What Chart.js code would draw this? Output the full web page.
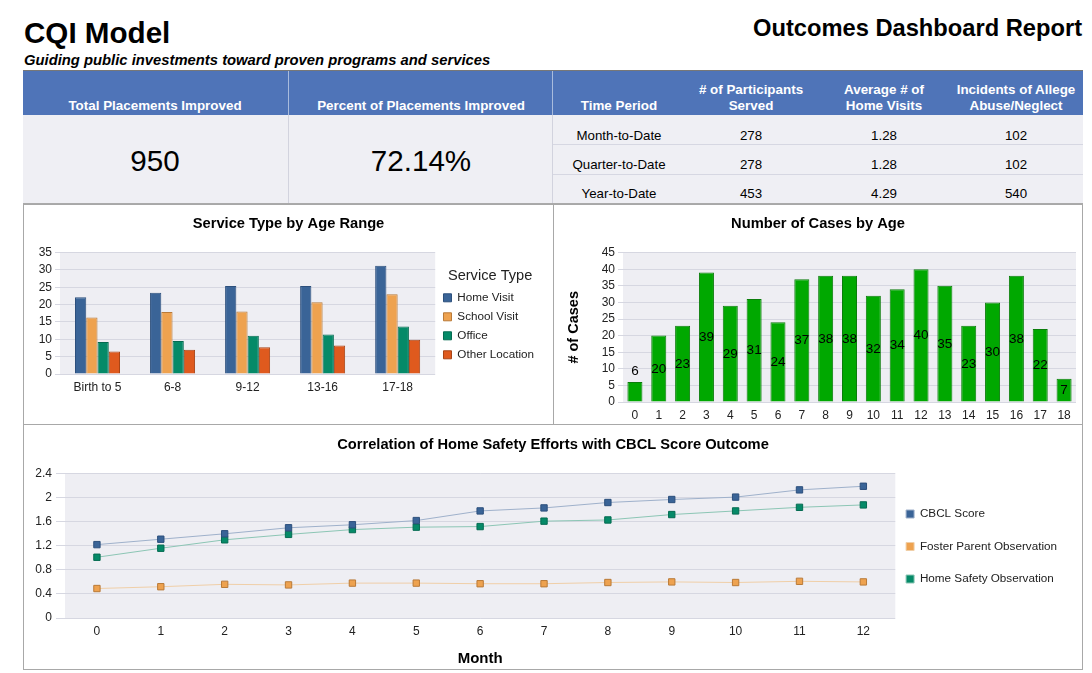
<!DOCTYPE html>
<html>
<head>
<meta charset="utf-8">
<title>Outcomes Dashboard Report</title>
<script src="https://cdn.jsdelivr.net/npm/chart.js@4/dist/chart.umd.min.js"></script>
<style>
html, body { margin: 0; padding: 0; background: #fff; }
body { width: 1092px; height: 673px; position: relative; overflow: hidden; font-family: "Liberation Sans", Arial, sans-serif; color: #000; }
.abs { position: absolute; }
#cqi { left: 24px; top: 16px; font-size: 29.6px; font-weight: bold; line-height: 34px; }
#sub { left: 24px; top: 52px; font-size: 14.8px; font-weight: bold; font-style: italic; line-height: 17px; }
#report { left: 753px; top: 14px; font-size: 23.7px; font-weight: bold; line-height: 28px; white-space: nowrap; }
#band { left: 23px; top: 70px; width: 1060px; height: 134px; background: #efeff4; border-top: 1px solid #777; border-bottom: 1px solid #aaa; box-sizing: border-box; }
#head { left: 23px; top: 71px; width: 1060px; height: 44px; background: #4f74b8; }
.th { position: absolute; color: #fff; font-weight: bold; font-size: 13.4px; line-height: 16px; text-align: center; transform: translateX(-50%); white-space: nowrap; }
.td { position: absolute; font-size: 13.3px; line-height: 16px; transform: translate(-50%, -50%); white-space: nowrap; }
.big { position: absolute; font-size: 29.6px; line-height: 34px; transform: translate(-50%, -50%); }
.vline { position: absolute; width: 1px; background: #d2d3de; }
.hline { position: absolute; height: 1px; background: #d6d7e2; }
.panel { position: absolute; box-sizing: border-box; border: 1px solid #a8a8a8; background: #fff; }
canvas { position: absolute; }
</style>
</head>
<body>
<div id="cqi" class="abs">CQI Model</div>
<div id="sub" class="abs">Guiding public investments toward proven programs and services</div>
<div id="report" class="abs">Outcomes Dashboard Report</div>
<div id="band" class="abs"></div>
<div id="head" class="abs"></div>
<div id="cells"></div>

<div class="panel" style="left:23px;top:204px;width:531px;height:221px"></div>
<div class="panel" style="left:553px;top:204px;width:530px;height:221px"></div>
<div class="panel" style="left:23px;top:424px;width:1060px;height:246px"></div>

<canvas id="serviceChart" width="529" height="219" style="left:24px;top:205px"></canvas>
<canvas id="casesChart" width="528" height="219" style="left:554px;top:205px"></canvas>
<canvas id="safetyChart" width="1058" height="243" style="left:24px;top:426px"></canvas>

<script>
// summary table
const summaryHeads = ["Total Placements Improved", "Percent of Placements Improved"];
const summaryValues = ["950", "72.14%"];
const tableHeads = ["Time Period", "# of Participants<br>Served", "Average # of<br>Home Visits", "Incidents of Allege<br>Abuse/Neglect"];
const periods = ["Month-to-Date", "Quarter-to-Date", "Year-to-Date"];
const participants = ["278", "278", "453"];
const homeVisits = ["1.28", "1.28", "4.29"];
const incidents = ["102", "102", "540"];

// service type by age range
const ageRanges = ["Birth to 5", "6-8", "9-12", "13-16", "17-18"];
const homeVisit = [22.1, 23.4, 25.4, 25.4, 31.2];
const schoolVisit = [16.3, 17.9, 18, 20.7, 23];
const office = [9.2, 9.5, 11, 11.4, 13.7];
const otherLocation = [6.5, 7, 7.7, 8.2, 9.9];

// cases by age
const ages = ["0", "1", "2", "3", "4", "5", "6", "7", "8", "9", "10", "11", "12", "13", "14", "15", "16", "17", "18"];
const cases = [6, 20, 23, 39, 29, 31, 24, 37, 38, 38, 32, 34, 40, 35, 23, 30, 38, 22, 7];

// home safety vs CBCL
const months = ["0", "1", "2", "3", "4", "5", "6", "7", "8", "9", "10", "11", "12"];
const cbclScore = [1.22, 1.31, 1.40, 1.50, 1.55, 1.62, 1.78, 1.83, 1.92, 1.97, 2.01, 2.13, 2.19];
const fosterObs = [0.49, 0.52, 0.56, 0.55, 0.58, 0.58, 0.57, 0.57, 0.59, 0.60, 0.59, 0.61, 0.60];
const safetyObs = [1.01, 1.16, 1.30, 1.39, 1.47, 1.51, 1.52, 1.61, 1.63, 1.72, 1.78, 1.84, 1.88];
const safetyTicks = ["0", "0.4", "0.8", "1.2", "1.6", "2", "2.4"];

const cells = document.getElementById("cells");
function add(cls, html, style) {
    const d = document.createElement("div");
    d.className = cls;
    d.innerHTML = html;
    d.style.cssText = style;
    cells.appendChild(d);
}

const summaryX = [155, 421];
const tableX = [619, 751, 884, 1016];
const rowY = [135.5, 164.5, 193.5];

summaryHeads.forEach((t, i) => add("th", t, "left:" + summaryX[i] + "px;top:98px"));
summaryValues.forEach((t, i) => add("big", t, "left:" + summaryX[i] + "px;top:161px"));
tableHeads.forEach((t, i) => add("th", t, "left:" + tableX[i] + "px;bottom:" + (673 - 114) + "px"));
periods.forEach((t, r) => {
    add("td", t, "left:" + tableX[0] + "px;top:" + rowY[r] + "px");
    add("td", participants[r], "left:" + tableX[1] + "px;top:" + rowY[r] + "px");
    add("td", homeVisits[r], "left:" + tableX[2] + "px;top:" + rowY[r] + "px");
    add("td", incidents[r], "left:" + tableX[3] + "px;top:" + rowY[r] + "px");
});
add("vline", "", "left:288px;top:71px;height:44px;background:#a9bcdd");
add("vline", "", "left:552px;top:71px;height:44px;background:#a9bcdd");
add("vline", "", "left:288px;top:115px;height:88px");
add("vline", "", "left:552px;top:115px;height:88px");
add("hline", "", "left:553px;top:144px;width:530px");
add("hline", "", "left:553px;top:174px;width:530px");

const fontName = "'Liberation Sans', Arial, sans-serif";
const gridColor = "#d6d7e1";

Chart.defaults.font.family = fontName;
Chart.defaults.animation = false;
Chart.defaults.responsive = false;
Chart.defaults.devicePixelRatio = 1;

const plotBackground = {
    id: "plotBackground",
    beforeDraw(chart) {
        const a = chart.chartArea;
        chart.ctx.save();
        chart.ctx.fillStyle = "#eeeef3";
        chart.ctx.fillRect(a.left, a.top, a.width, a.height);
        chart.ctx.restore();
    }
};

// layout padding pushes the title off centre and the legend sits too far out,
// so move both after the chart area is settled
const nudgeBoxes = {
    id: "nudgeBoxes",
    afterLayout(chart, args, opts) {
        const t = chart.titleBlock;
        const half = (chart.options.layout.padding.right || 0) / 2;
        t.left += half;
        t.right += half;
        const l = chart.legend;
        if (l && opts.legendX !== undefined) {
            l.left += opts.legendX;
            l.right += opts.legendX;
            l.top += opts.legendY;
            l.bottom += opts.legendY;
        }
    }
};

// numbers on the bars, small bars get it above
const barNumbers = {
    id: "barNumbers",
    afterDatasetsDraw(chart) {
        const ctx = chart.ctx;
        const y = chart.scales.y;
        ctx.save();
        ctx.font = "13.5px " + fontName;
        ctx.fillStyle = "#000";
        ctx.textAlign = "center";
        ctx.textBaseline = "middle";
        chart.getDatasetMeta(0).data.forEach((bar, i) => {
            const v = cases[i];
            const py = v < 7 ? y.getPixelForValue(v) - 11 : y.getPixelForValue(v / 2);
            ctx.fillText(String(v), bar.x, py);
        });
        ctx.restore();
    }
};

function titleOpts(text) {
    return {
        display: true,
        text: text,
        color: "#000",
        font: { size: 14.7, weight: "bold" },
        padding: { top: 10, bottom: 20 }
    };
}

function barSet(label, data, fill, edge) {
    return { label: label, data: data, backgroundColor: fill, borderColor: edge, borderWidth: 1 };
}

function lineSet(label, data, marker, edge, line) {
    return {
        label: label,
        data: data,
        backgroundColor: marker,
        borderColor: line,
        borderWidth: 1,
        pointStyle: "rect",
        pointRadius: 4.5,
        pointBackgroundColor: marker,
        pointBorderColor: edge,
        pointBorderWidth: 1,
        tension: 0
    };
}

new Chart(document.getElementById("serviceChart"), {
    type: "bar",
    data: {
        labels: ageRanges,
        datasets: [
            barSet("Home Visit", homeVisit, "#3a6497", "#2c4f7c"),
            barSet("School Visit", schoolVisit, "#eea24f", "#b97a38"),
            barSet("Office", office, "#058a68", "#046b51"),
            barSet("Other Location", otherLocation, "#df5a1e", "#a84416")
        ]
    },
    options: {
        layout: { padding: { right: 10 } },
        categoryPercentage: 0.6,
        barPercentage: 1,
        plugins: {
            nudgeBoxes: { legendX: 1, legendY: 4 },
            title: titleOpts("Service Type by Age Range"),
            tooltip: { enabled: false },
            legend: {
                position: "right",
                title: { display: true, text: "Service Type", color: "#222", font: { size: 14.6, lineHeight: 1 }, padding: { top: 0, bottom: 1 } },
                labels: { boxWidth: 8, boxHeight: 8, padding: 7.3, color: "#222", font: { size: 11.7 } }
            }
        },
        scales: {
            x: {
                grid: { display: false, drawTicks: false },
                border: { display: false },
                ticks: { color: "#222", font: { size: 12 }, padding: 6, maxRotation: 0 },
                afterFit(s) { s.height = 50; }
            },
            y: {
                min: 0,
                max: 35,
                grid: { color: gridColor, tickLength: 5 },
                border: { display: false },
                ticks: { stepSize: 5, autoSkip: false, color: "#222", font: { size: 12 }, padding: 3 },
                afterFit(s) { s.width = 36; }
            }
        }
    },
    plugins: [plotBackground, nudgeBoxes]
});

new Chart(document.getElementById("casesChart"), {
    type: "bar",
    data: {
        labels: ages,
        datasets: [barSet("Cases", cases, "#00a800", "#0b7d0b")]
    },
    options: {
        layout: { padding: { right: 6 } },
        categoryPercentage: 1,
        barPercentage: 0.63,
        plugins: {
            nudgeBoxes: {},
            title: titleOpts("Number of Cases by Age"),
            tooltip: { enabled: false },
            legend: { display: false }
        },
        scales: {
            x: {
                grid: { display: false, drawTicks: false },
                border: { display: false },
                ticks: { color: "#222", font: { size: 12 }, padding: 6, maxRotation: 0 },
                afterFit(s) { s.height = 22; }
            },
            y: {
                min: 0,
                max: 45,
                title: { display: true, text: "# of Cases", color: "#000", font: { size: 14.5, weight: "bold" }, padding: { top: 11, bottom: 0 } },
                grid: { color: gridColor, tickLength: 5 },
                border: { display: false },
                ticks: { stepSize: 5, autoSkip: false, color: "#222", font: { size: 12 }, padding: 3 },
                afterFit(s) { s.width = 69; }
            }
        }
    },
    plugins: [plotBackground, nudgeBoxes, barNumbers]
});

new Chart(document.getElementById("safetyChart"), {
    type: "line",
    data: {
        labels: months,
        datasets: [
            lineSet("CBCL Score", cbclScore, "#3a6497", "#2c4f7c", "#9fb1cb"),
            lineSet("Foster Parent Observation", fosterObs, "#eea24f", "#b97a38", "#f0cfa8"),
            lineSet("Home Safety Observation", safetyObs, "#058a68", "#046b51", "#8cc6b5")
        ]
    },
    options: {
        layout: { padding: { right: 5 } },
        plugins: {
            nudgeBoxes: { legendX: -10, legendY: -1 },
            title: titleOpts("Correlation of Home Safety Efforts with CBCL Score Outcome"),
            tooltip: { enabled: false },
            legend: {
                position: "right",
                labels: { boxWidth: 8, boxHeight: 8, padding: 20.8, color: "#222", font: { size: 11.7 } }
            }
        },
        scales: {
            x: {
                offset: true,
                grid: { display: false, drawTicks: false },
                border: { display: false },
                title: { display: true, text: "Month", color: "#000", font: { size: 15, weight: "bold" }, padding: { top: 0, bottom: 1 } },
                ticks: { color: "#222", font: { size: 12 }, padding: 6, maxRotation: 0 },
                afterFit(s) { s.height = 51; }
            },
            y: {
                min: 0,
                max: 2.4,
                grid: { color: gridColor, tickLength: 9 },
                border: { display: false },
                ticks: {
                    stepSize: 0.4,
                    autoSkip: false,
                    color: "#222",
                    font: { size: 12 },
                    padding: 4,
                    callback(v, i) { return safetyTicks[i]; }
                },
                afterFit(s) { s.width = 41; }
            }
        }
    },
    plugins: [plotBackground, nudgeBoxes]
});
</script>
</body>
</html>
